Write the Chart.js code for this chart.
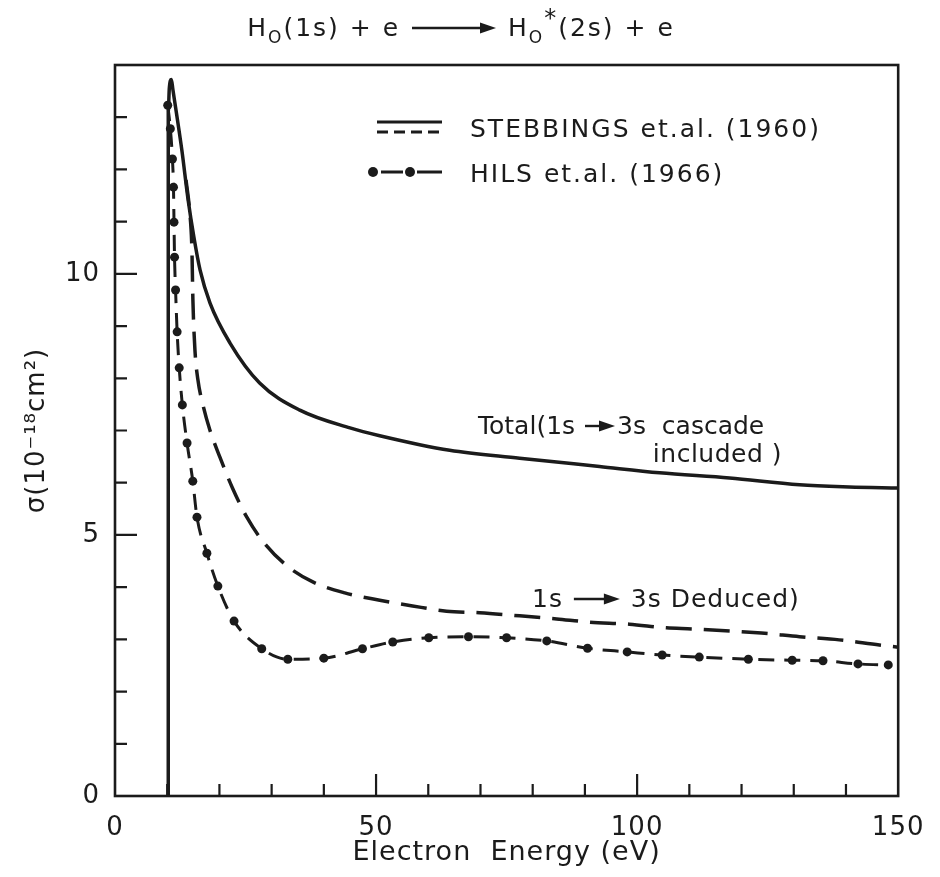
<!DOCTYPE html>
<html><head><meta charset="utf-8">
<script src="https://cdn.jsdelivr.net/npm/chart.js@4.4.1/dist/chart.umd.min.js"></script>
<style>html,body{margin:0;padding:0;background:#fff;}canvas{display:block;}</style>
</head><body>
<canvas id="c" width="940" height="877" style="width:940px;height:877px"></canvas>
<script>
// ---- data ----
const totalX = [10.2, 10.2, 10.4, 10.8, 11.1, 12.8, 14.0, 15.1, 16.3, 18.2, 22.0, 27.7, 35.4, 45.0, 50.7, 64.1, 77.5, 92.8, 104.3, 117.7, 131.1, 140.6, 150];
const totalY = [0, 13.1, 13.55, 13.72, 13.52, 12.37, 11.42, 10.71, 10.07, 9.44, 8.68, 7.91, 7.39, 7.05, 6.90, 6.62, 6.47, 6.31, 6.19, 6.09, 5.96, 5.92, 5.90];

const stebbingsX = [13.6, 14.3, 14.73, 14.92, 15.31, 15.88, 16.84, 18.17, 20.09, 22.58, 25.25, 28.31, 32.91, 37.88, 44.0, 50.7, 57.0, 63.5, 69.8, 77.5, 84.6, 90.9, 98.5, 105.6, 110.6, 123.8, 131.1, 138.7, 146.4, 150];
const stebbingsY = [11.8, 11.2, 10.46, 9.50, 8.54, 7.97, 7.49, 7.01, 6.49, 5.88, 5.34, 4.88, 4.41, 4.10, 3.89, 3.75, 3.64, 3.54, 3.51, 3.45, 3.39, 3.33, 3.29, 3.22, 3.20, 3.12, 3.05, 2.99, 2.89, 2.85];

const hilsX = [10.1, 10.6, 11.0, 11.2, 11.3, 11.4, 11.6, 11.9, 12.3, 12.9, 13.8, 14.9, 15.7, 17.6, 19.7, 22.8, 28.1, 33.1, 40.0, 47.4, 53.2, 60.1, 67.7, 75.0, 82.7, 90.5, 98.1, 104.8, 111.9, 121.3, 129.7, 135.6, 142.3, 148.1];
const hilsY = [13.23, 12.78, 12.20, 11.66, 10.99, 10.32, 9.69, 8.89, 8.20, 7.49, 6.76, 6.03, 5.34, 4.65, 4.02, 3.35, 2.82, 2.62, 2.64, 2.82, 2.95, 3.03, 3.05, 3.03, 2.97, 2.83, 2.76, 2.70, 2.66, 2.62, 2.60, 2.59, 2.53, 2.51];

const xTickValues = [0, 50, 100, 150];
const yTickValues = [0, 5, 10];
const xMinorTicks = [10, 20, 30, 40, 60, 70, 80, 90, 110, 120, 130, 140];
const xMajorTicks = [50, 100];
const yMinorTicks = [1, 2, 3, 4, 6, 7, 8, 9, 11, 12, 13];
const yMajorTicks = [5, 10];
const legendLabels = ['STEBBINGS et.al. (1960)', 'HILS et.al. (1966)'];
const xTitle = 'Electron  Energy (eV)';
const yTitle = 'σ(10⁻¹⁸cm²)';

const INK = '#1b1b1b';
const FONT = "'DejaVu Sans', 'Liberation Sans', sans-serif";

function pts(xs, ys) { return xs.map((v, i) => ({x: v, y: ys[i]})); }

function drawArrow(ctx, x0, yy, len) {
  ctx.save();
  ctx.lineWidth = 2.4;
  ctx.beginPath(); ctx.moveTo(x0, yy); ctx.lineTo(x0 + len - 12, yy); ctx.stroke();
  ctx.beginPath(); ctx.moveTo(x0 + len, yy); ctx.lineTo(x0 + len - 16, yy - 5.5); ctx.lineTo(x0 + len - 16, yy + 5.5); ctx.closePath(); ctx.fill();
  ctx.restore();
}
function rich(ctx, parts, x, y, align, spacing) {
  ctx.letterSpacing = (spacing || 0) + 'px';
  let w = 0;
  parts.forEach(p => { if (p.arrow) w += p.arrow; else { ctx.font = (p.size || 25) + 'px ' + FONT; w += ctx.measureText(p.t).width; } });
  if (align === 'center') x -= w / 2; else if (align === 'right') x -= w;
  ctx.textAlign = 'left'; ctx.textBaseline = 'alphabetic';
  parts.forEach(p => {
    if (p.arrow) { drawArrow(ctx, x + 2, y - 8, p.arrow - 4); x += p.arrow; }
    else { ctx.font = (p.size || 25) + 'px ' + FONT; ctx.fillText(p.t, x, y + (p.dy || 0)); x += ctx.measureText(p.t).width; }
  });
  ctx.letterSpacing = '0px';
}

const decor = {
  id: 'decor',
  beforeDraw(chart) { chart.ctx.letterSpacing = '1px'; },
  afterDraw(chart) {
    const {ctx, chartArea: a, scales: {x, y}} = chart;
    ctx.save();
    ctx.strokeStyle = INK; ctx.fillStyle = INK;
    ctx.lineWidth = 2.6;
    ctx.strokeRect(a.left, a.top, a.right - a.left, a.bottom - a.top);
    ctx.lineWidth = 2.2;
    ctx.beginPath();
    xMinorTicks.forEach(v => { const p = x.getPixelForValue(v); ctx.moveTo(p, a.bottom); ctx.lineTo(p, a.bottom - 12); });
    xMajorTicks.forEach(v => { const p = x.getPixelForValue(v); ctx.moveTo(p, a.bottom); ctx.lineTo(p, a.bottom - 22); });
    yMinorTicks.forEach(v => { const p = y.getPixelForValue(v); ctx.moveTo(a.left, p); ctx.lineTo(a.left + 12, p); });
    yMajorTicks.forEach(v => { const p = y.getPixelForValue(v); ctx.moveTo(a.left, p); ctx.lineTo(a.left + 22, p); });
    ctx.stroke();

    // title
    rich(ctx, [
      {t: 'H'}, {t: 'O', size: 17, dy: 7}, {t: '(1s) + e '},
      {arrow: 88},
      {t: ' H'}, {t: 'O', size: 17, dy: 7}, {t: '*', size: 24, dy: -10}, {t: '(2s) + e'}
    ], 461, 36, 'center', 2);

    // legend
    ctx.lineWidth = 3;
    ctx.beginPath(); ctx.moveTo(377, 122); ctx.lineTo(442, 122); ctx.stroke();
    ctx.setLineDash([11, 6]);
    ctx.beginPath(); ctx.moveTo(377, 132); ctx.lineTo(442, 132); ctx.stroke();
    ctx.setLineDash([]);
    ctx.beginPath(); ctx.moveTo(381, 172); ctx.lineTo(403, 172); ctx.moveTo(417, 172); ctx.lineTo(442, 172); ctx.stroke();
    [373, 410].forEach(px => { ctx.beginPath(); ctx.arc(px, 172, 5, 0, Math.PI * 2); ctx.fill(); });
    rich(ctx, [{t: legendLabels[0]}], 470, 137, 'left', 2);
    rich(ctx, [{t: legendLabels[1]}], 470, 182, 'left', 2);

    // curve annotations
    rich(ctx, [{t: 'Total(1s '}, {arrow: 34}, {t: '3s  cascade'}], 478, 434, 'left', 0);
    rich(ctx, [{t: 'included )'}], 782, 462, 'right', 0.5);
    rich(ctx, [{t: '1s '}, {arrow: 50}, {t: ' 3s Deduced)'}], 532, 607, 'left', 1);
    ctx.restore();
  }
};

new Chart(document.getElementById('c'), {
  type: 'scatter',
  data: {
    datasets: [
      {label: 'Total', data: pts(totalX, totalY), showLine: true, borderColor: INK, borderWidth: 3.5, pointRadius: 0, cubicInterpolationMode: 'monotone', fill: false},
      {label: legendLabels[0], data: pts(stebbingsX, stebbingsY), showLine: true, borderColor: INK, borderWidth: 3.5, borderDash: [26, 12], pointRadius: 0, cubicInterpolationMode: 'monotone', fill: false},
      {label: legendLabels[1], data: pts(hilsX, hilsY), showLine: true, borderColor: INK, borderWidth: 3, borderDash: [16, 10], pointRadius: 4.5, pointBackgroundColor: INK, pointBorderWidth: 0, pointStyle: 'circle', cubicInterpolationMode: 'monotone', fill: false}
    ]
  },
  options: {
    responsive: false, animation: false, devicePixelRatio: 1,
    layout: {padding: {top: 65, right: 41, left: 0, bottom: 0}},
    plugins: {legend: {display: false}, tooltip: {enabled: false}, title: {display: false}},
    scales: {
      x: {
        type: 'linear', position: 'bottom', min: 0, max: 150,
        afterFit: s => { s.height = 81; },
        afterBuildTicks: s => { s.ticks = xTickValues.map(v => ({value: v})); },
        grid: {display: false, drawTicks: false}, border: {display: false},
        ticks: {color: INK, font: {family: FONT, size: 26}, padding: 17, maxRotation: 0},
        title: {display: true, text: xTitle, color: INK, font: {family: FONT, size: 27}, padding: {top: 0, bottom: 8}}
      },
      y: {
        type: 'linear', position: 'left', min: 0, max: 14,
        afterFit: s => { s.width = 115; },
        afterBuildTicks: s => { s.ticks = yTickValues.map(v => ({value: v})); },
        grid: {display: false, drawTicks: false}, border: {display: false},
        ticks: {color: INK, font: {family: FONT, size: 26}, padding: 15},
        title: {display: true, text: yTitle, color: INK, font: {family: FONT, size: 26}, padding: {top: 22, bottom: 0}}
      }
    }
  },
  plugins: [decor]
});
</script>
</body></html>
